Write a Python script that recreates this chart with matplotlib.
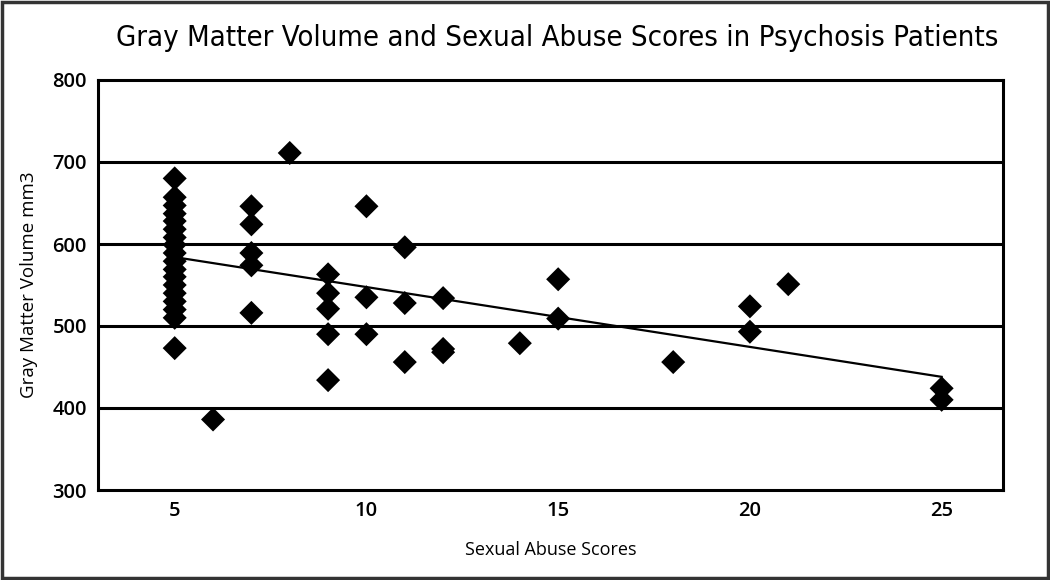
import matplotlib
matplotlib.use("Agg")
import matplotlib.pyplot as plt
from matplotlib.patches import Rectangle

# ---- data ----
score_5 = [680, 657, 647, 637, 628, 618, 608, 599, 589, 579, 569, 560, 550, 540, 530, 520, 510, 473]
x_other = [6, 7, 7, 7, 7, 7, 8, 9, 9, 9, 9, 9, 10, 10, 10, 11, 11, 11, 12, 12, 12,
           14, 15, 15, 18, 20, 20, 21, 25, 25]
y_other = [386, 646, 624, 589, 574, 516, 711, 563, 540, 521, 490, 434, 646, 535, 490,
           596, 528, 456, 534, 472, 468, 479, 557, 509, 456, 524, 493, 551, 424, 410]
trend_x = [5, 25]
trend_y = [584, 438]

x_ticks = [5, 10, 15, 20, 25]
y_ticks = [300, 400, 500, 600, 700, 800]

title = "Gray Matter Volume and Sexual Abuse Scores in Psychosis Patients"
xlabel = "Sexual Abuse Scores"
ylabel = "Gray Matter Volume mm3"

xs = [5] * len(score_5) + x_other
ys = score_5 + y_other

# ---- figure ----
fig = plt.figure(figsize=(10.5, 5.8), dpi=100)
fig.patches.append(Rectangle((0.002, 0.003), 0.996, 0.994, transform=fig.transFigure,
                             fill=False, edgecolor="#333333", linewidth=2.5))

ax = fig.add_axes([98 / 1050, 1 - 490 / 580, (1003 - 98) / 1050, (490 - 80) / 580])
ax.set_xlim(3, 26.6)
ax.set_ylim(300, 800)

for yv in y_ticks[1:-1]:
    ax.axhline(yv, color="black", linewidth=2.2, zorder=1)

ax.plot(trend_x, trend_y, color="black", linewidth=1.6, zorder=2)
ax.scatter(xs, ys, marker="D", s=150, color="black", edgecolors="none", zorder=3)

for sp in ax.spines.values():
    sp.set_linewidth(2.2)
    sp.set_color("black")

ax.set_xticks(x_ticks)
ax.set_yticks(y_ticks)
ax.tick_params(axis="both", length=0, labelsize=14.5, pad=8)
for lab in ax.get_xticklabels() + ax.get_yticklabels():
    lab.set_fontfamily("Open Sans")
    lab.set_fontweight("semibold")

ax.set_xlabel(xlabel, fontsize=13, fontfamily="Open Sans", labelpad=14)
ax.set_ylabel(ylabel, fontsize=13.5, fontfamily="Open Sans", labelpad=10)

fig.text(557 / 1050, 1 - 38 / 580, title, ha="center", va="center", fontsize=21,
         fontfamily="DejaVu Sans", fontstretch="condensed")

fig.savefig("out.png", dpi=100)
